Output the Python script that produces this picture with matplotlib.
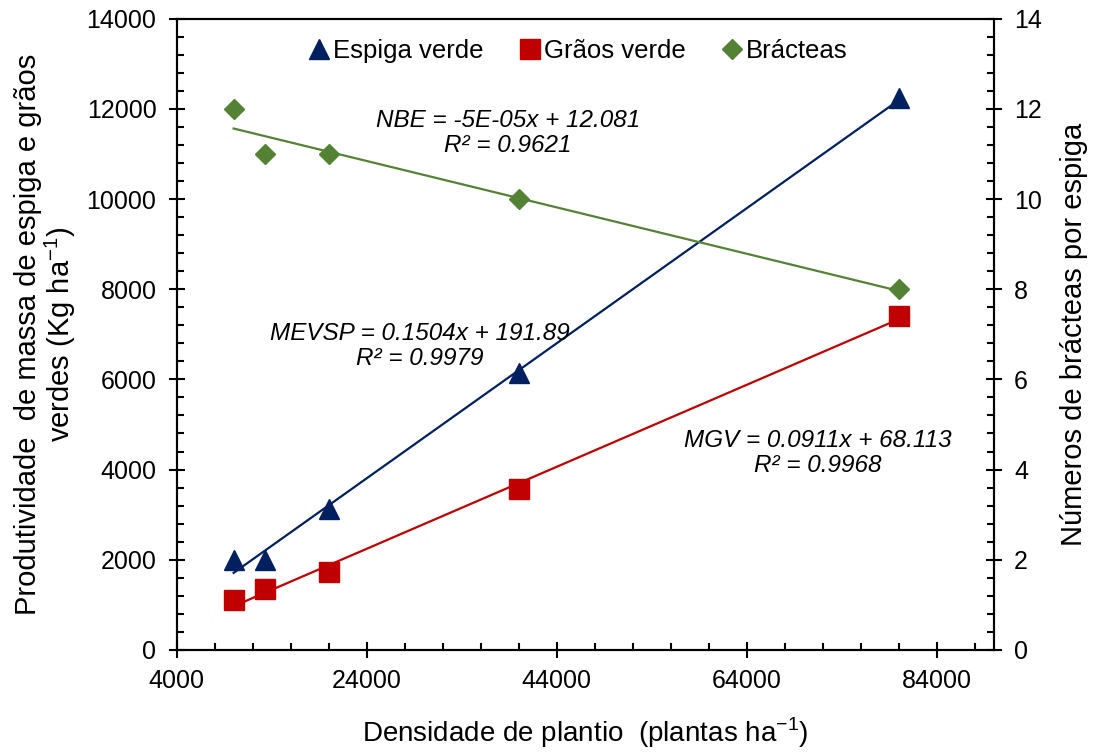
import matplotlib
matplotlib.use("Agg")
import matplotlib.pyplot as plt
from matplotlib.ticker import MultipleLocator, FixedLocator
from matplotlib.lines import Line2D
import numpy as np

plt.rcParams['font.family'] = ['Liberation Sans', 'DejaVu Sans']
plt.rcParams['mathtext.fontset'] = 'custom'
plt.rcParams['mathtext.rm'] = 'Liberation Sans'

densidade = np.array([10000, 13333, 20000, 40000, 80000])
espiga = np.array([2000, 2000, 3130, 6150, 12240])
graos = np.array([1110, 1340, 1720, 3570, 7410])
bracteas = np.array([12, 11, 11, 10, 8])

eq_espiga = "MEVSP = 0.1504x + 191.89\nR² = 0.9979"
eq_graos = "MGV = 0.0911x + 68.113\nR² = 0.9968"
eq_bract = "NBE = -5E-05x + 12.081\nR² = 0.9621"

c_blue = "#002060"
c_red = "#C00000"
c_green = "#548235"

F, ax = plt.subplots(figsize=(10.97, 7.53), dpi=100)
F.subplots_adjust(left=0.161, right=0.906, top=0.975, bottom=0.137)
ax2 = ax.twinx()

# trend lines (linear fit over data range)
xs = np.array([densidade.min(), densidade.max()])
for y, c, a in [(espiga, c_blue, ax), (graos, c_red, ax), (bracteas, c_green, ax2)]:
    p = np.polyfit(densidade, y, 1)
    a.plot(xs, np.polyval(p, xs), color=c, lw=1.6, zorder=2)

ax.plot(densidade, espiga, ls="none", marker="^", ms=15, color=c_blue, zorder=3)
ax.plot(densidade, graos, ls="none", marker="s", ms=14, color=c_red, zorder=3)
ax2.plot(densidade, bracteas, ls="none", marker="D", ms=10.5, color=c_green, zorder=3)

ax.set_xlim(4000, 90000)
ax.set_ylim(0, 14000)
ax2.set_ylim(0, 14)
ax.xaxis.set_major_locator(FixedLocator(np.arange(4000, 90001, 20000)))
ax.xaxis.set_minor_locator(MultipleLocator(4000))
ax.yaxis.set_major_locator(MultipleLocator(2000))
ax.yaxis.set_minor_locator(MultipleLocator(400))
ax2.yaxis.set_major_locator(MultipleLocator(2))
ax2.yaxis.set_minor_locator(MultipleLocator(0.4))

for a in (ax, ax2):
    a.tick_params(which="major", direction="inout", length=11, width=1.5, labelsize=18, pad=9)
    a.tick_params(which="minor", direction="in", length=5, width=1.5)
    for s in a.spines.values():
        s.set_linewidth(1.5)
ax.tick_params(axis="x", pad=8)

ax.set_xlabel("Densidade de plantio  (plantas ha$^{-1}$)", fontsize=20)
ax.set_ylabel("Produtividade  de massa de espiga e grãos\nverdes (Kg ha$^{-1}$)", fontsize=21,
              linespacing=1.05)
ax2.set_ylabel("Números de brácteas por espiga", fontsize=21)
ax.xaxis.label.set_va("center")
ax.yaxis.label.set_va("center")
ax2.yaxis.label.set_va("center")
ax.xaxis.set_label_coords(0.5, -0.131)
ax.yaxis.set_label_coords(-0.160, 0.5)
ax2.yaxis.set_label_coords(1.098, 0.5)

# equation labels, positions in pixels from the top-left corner
for txt, px, py in [(eq_bract, 508, 133), (eq_espiga, 420, 346), (eq_graos, 818, 453)]:
    F.text(px / 1097, 1 - py / 753, txt, fontsize=17.5, style="italic",
           ha="center", va="center", multialignment="center", linespacing=1.1)

handles = [
    Line2D([], [], ls="none", marker="^", ms=14, color=c_blue),
    Line2D([], [], ls="none", marker="s", ms=14, color=c_red),
    Line2D([], [], ls="none", marker="D", ms=10, color=c_green),
]
ax.legend(handles, ["Espiga verde", "Grãos verde", "Brácteas"], loc="upper center",
          bbox_to_anchor=(0.49, 1.005), ncol=3, frameon=False, fontsize=18.5,
          handletextpad=0.05, columnspacing=1.3, handlelength=1.0)

F.savefig("out.png", dpi=100)
